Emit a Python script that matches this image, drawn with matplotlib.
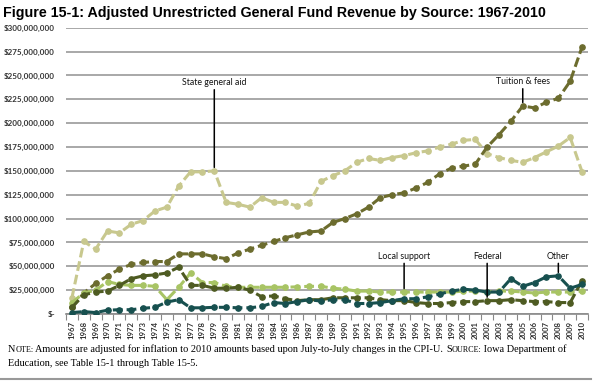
import numpy as np
import matplotlib.pyplot as plt
from matplotlib.ticker import FixedLocator, FuncFormatter

# years on the category axis
years = list(range(1967, 2011))

# revenue by source, millions of 2010 dollars
state_aid = [17, 76, 68, 87, 85, 94, 98, 108, 112, 134, 149, 149, 150, 117, 115,
             112, 122, 117, 117, 113, 116, 139, 145, 150, 159, 163, 161, 164, 166,
             169, 171, 175, 178, 182, 183, 168, 164, 161, 159, 164, 170, 176, 185, 149]
tuition = [7, 22, 32, 40, 47, 52, 54, 55, 55, 63, 63, 63, 60, 58, 64, 68, 72, 76,
           80, 83, 86, 87, 96, 100, 105, 112, 122, 125, 127, 132, 138, 147, 153,
           155, 157, 175, 188, 202, 218, 216, 222, 226, 244, 280]
local = [12, 22, 25, 34, 31, 30, 30, 29, 15, 28, 43, 33, 33, 29, 28, 28, 28, 28,
         28, 28.5, 29, 29, 27, 26, 24, 24, 23, 23, 23, 23, 23, 23, 23, 24, 24, 23,
         24, 24, 23, 22, 23, 23, 23, 24]
federal = [7, 20, 23, 24, 30, 37, 40, 41, 43, 49, 30, 30, 27, 27, 28, 25, 18, 19,
           16, 14, 15, 15, 17, 17, 17, 17, 15, 14, 14, 12, 11, 11, 12, 13, 13, 14,
           14, 15, 14, 13, 13, 12, 12, 35]
other = [1.5, 2.5, 1.5, 4, 4.5, 4.5, 6, 7, 12.5, 15, 6.5, 6.5, 7, 7, 6.5, 6.5, 8,
         12, 11, 13, 15, 13.5, 15, 15, 11, 11, 12, 14, 16, 16, 18, 21, 24, 26, 25,
         23, 23, 37, 29, 33, 39, 40, 27, 31]

series = [
    ("State general aid", state_aid, "#c8c88e"),
    ("Tuition & fees", tuition, "#6c6c2e"),
    ("Local support", local, "#a8c464"),
    ("Federal", federal, "#4e5b22"),
    ("Other", other, "#17504f"),
]

# label text, year pointed at, series index, label y (in millions)
callouts = [
    ("State general aid", 1979, 0, 238),
    ("Tuition & fees", 2005, 1, 239),
    ("Local support", 1995, 2, 56),
    ("Federal", 2002, 3, 56),
    ("Other", 2008, 4, 56),
]

fig = plt.figure(figsize=(6, 3.82), dpi=100)
ax = fig.add_axes([0.11, 0.178, 0.87, 0.7493])

x = np.arange(len(years))
for name, vals, col in series:
    ax.plot(x, np.array(vals) * 1e6, color=col, lw=2.2, ls=(0, (3.2, 1.3)),
            marker="o", ms=3.8, mfc=col, mec=col, zorder=3)

for name, yr, si, ly in callouts:
    i = years.index(yr)
    yv = series[si][1][i] * 1e6
    ax.annotate(name, xy=(i, yv), xytext=(i, ly * 1e6), ha="center", va="bottom",
                fontsize=6.3, family="Lato", color="#111111",
                arrowprops=dict(arrowstyle="-", color="black", lw=1.1,
                                shrinkA=0, shrinkB=2.5), zorder=4)

ax.set_xlim(-0.5, len(years) - 0.5)
ax.set_ylim(0, 300e6)
ax.set_yticks(np.arange(0, 300e6 + 1, 25e6))
ax.yaxis.set_major_formatter(FuncFormatter(
    lambda v, p: "$-" if v == 0 else "${:,.0f}".format(v)))
ax.set_xticks(x)
ax.set_xticklabels([str(y) for y in years], rotation=90)
ax.xaxis.set_minor_locator(FixedLocator(np.arange(-0.5, len(years), 1)))
ax.tick_params(axis="x", which="major", length=0, pad=5, labelsize=5.6)
ax.tick_params(axis="x", which="minor", length=4, color="#888888", width=0.8)
ax.tick_params(axis="y", length=0, pad=8, labelsize=5.8)
for lab in ax.get_xticklabels() + ax.get_yticklabels():
    lab.set_family("Lato")
    lab.set_fontweight("bold")
    lab.set_color("#333333")

ax.grid(axis="y", color="#9a9a9a", lw=1.2)
ax.set_axisbelow(True)
for s in ["left", "right", "top"]:
    ax.spines[s].set_visible(False)
ax.spines["bottom"].set_color("#8a8a8a")
ax.spines["bottom"].set_linewidth(1.2)

fig.text(0.005, 0.985, "Figure 15-1: Adjusted Unrestricted General Fund Revenue by Source: 1967-2010",
         ha="left", va="top", fontsize=10.3, fontweight="bold", family="Liberation Sans")

# note with small caps labels
fs, sc = 7.4, 5.9
t = fig.text(0.013, 0.0785, "N", fontsize=fs, family="Liberation Serif", va="baseline")
parts = [("OTE:", sc), (" Amounts are adjusted for inflation to 2010 amounts based upon July-to-July changes in the CPI-U. ", fs),
         ("S", fs), ("OURCE:", sc), (" Iowa Department of", fs)]
for txt, size in parts:
    t = ax.annotate(txt, xy=(1, 0), xycoords=t, va="bottom", ha="left",
                    fontsize=size, family="Liberation Serif", annotation_clip=False)
fig.text(0.013, 0.042, "Education, see Table 15-1 through Table 15-5.", fontsize=fs,
         family="Liberation Serif", va="baseline")
fig.add_artist(plt.Line2D([0, 0.985], [0.007, 0.007], color="#999999", lw=1.5))

fig.savefig("out.png", dpi=100)
